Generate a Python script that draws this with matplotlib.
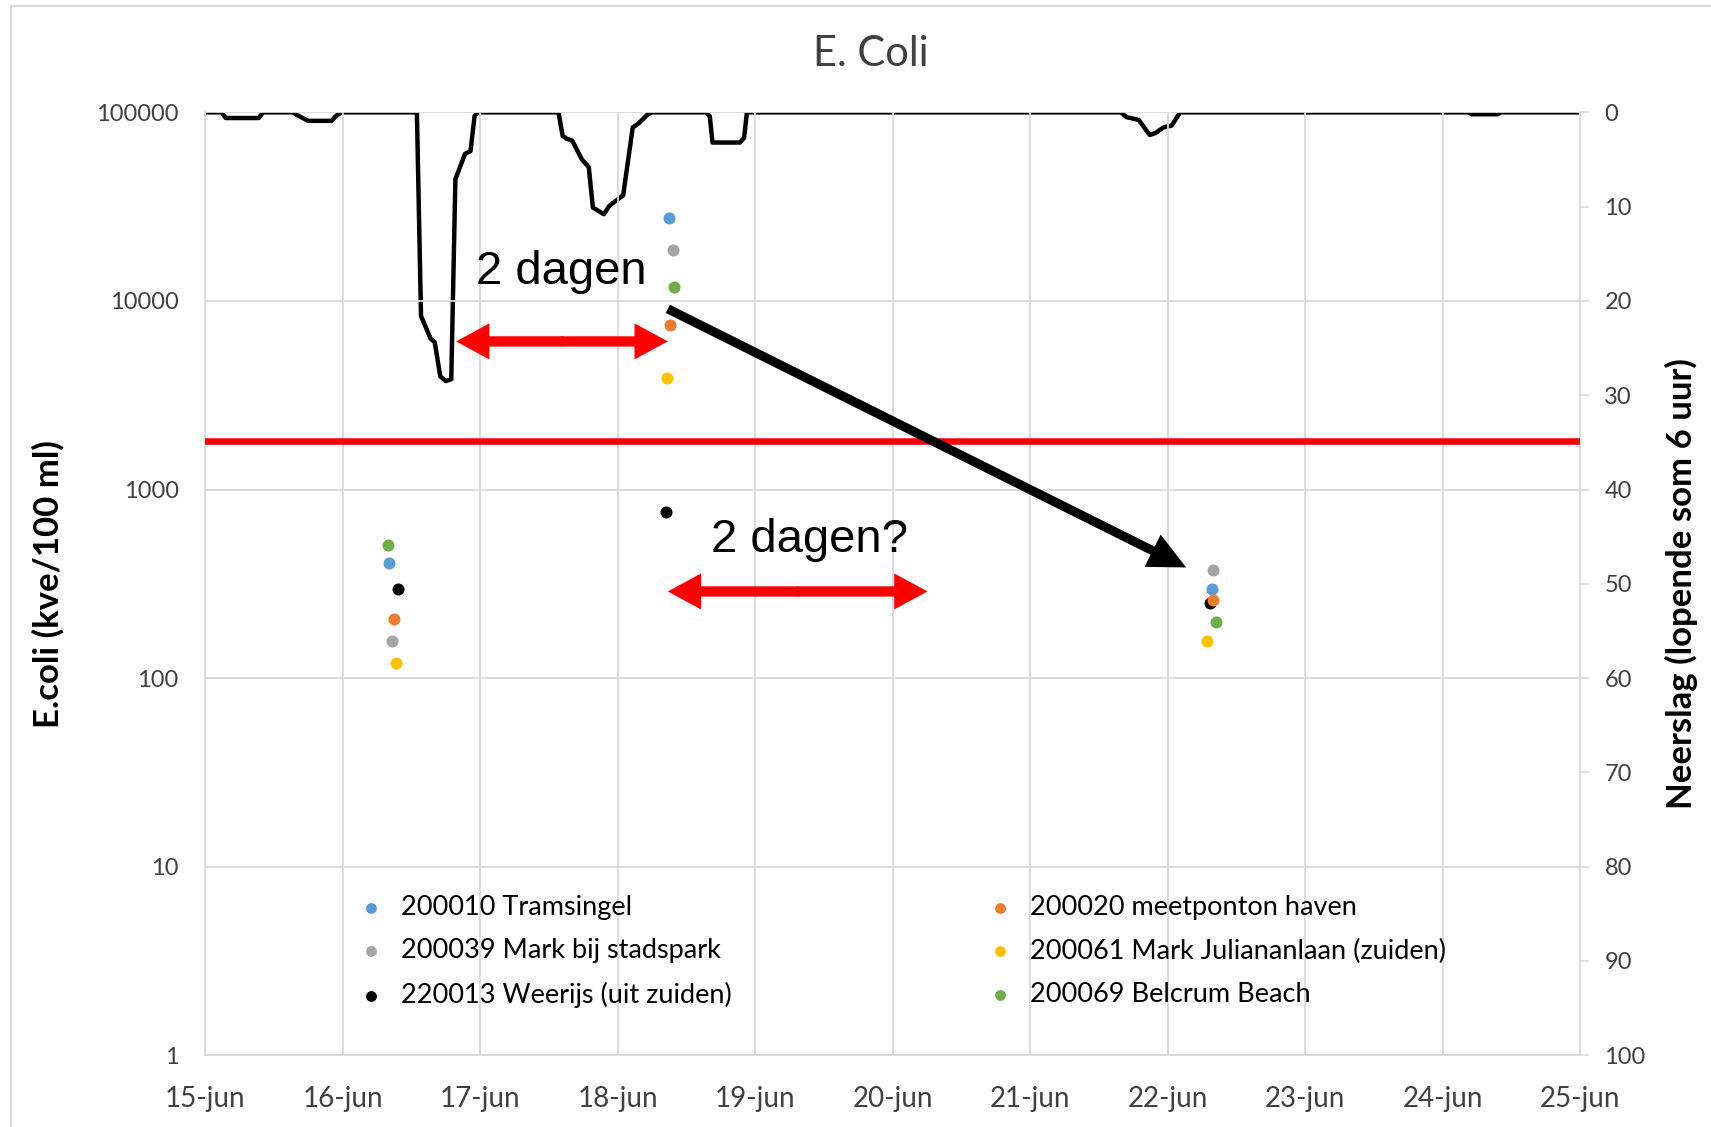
import numpy as np
import matplotlib
matplotlib.use("Agg")
import matplotlib.pyplot as plt
from matplotlib.patches import FancyArrowPatch, Rectangle
from matplotlib.ticker import FixedLocator, NullLocator

# x = days since 15-jun 00:00
day_labels = ["15-jun", "16-jun", "17-jun", "18-jun", "19-jun", "20-jun",
              "21-jun", "22-jun", "23-jun", "24-jun", "25-jun"]

# neerslag, lopende som 6 uur (mm)
rain_t = [0, 0.12, 0.15, 0.39, 0.42, 0.64, 0.67, 0.75, 0.92, 0.95, 0.99,
          1.54, 1.57, 1.64, 1.67, 1.71, 1.75, 1.79, 1.82, 1.89, 1.93, 1.96, 1.99,
          2.57, 2.60, 2.63, 2.67, 2.74, 2.79, 2.82, 2.90, 2.94, 3.04, 3.11, 3.15, 3.22, 3.25,
          3.64, 3.67, 3.69, 3.89, 3.92, 3.94,
          6.66, 6.70, 6.79, 6.87, 6.91, 6.97, 7.03, 7.09,
          9.19, 9.21, 9.40, 9.42, 10]
rain_mm = [0, 0, 0.6, 0.6, 0, 0, 0.3, 0.9, 0.9, 0.4, 0,
           0, 21.6, 24.0, 24.4, 28.0, 28.5, 28.3, 7.1, 4.4, 4.1, 0.35, 0,
           0, 2.5, 2.8, 3.0, 5.0, 5.8, 10.1, 10.8, 9.9, 8.8, 1.6, 1.2, 0.2, 0,
           0, 0.4, 3.2, 3.2, 2.7, 0,
           0, 0.5, 0.8, 2.4, 2.2, 1.6, 1.4, 0,
           0, 0.2, 0.2, 0, 0]

# E.coli meetpunten (kve/100 ml), three sampling moments
stations = ["200010 Tramsingel", "200039 Mark bij stadspark", "220013 Weerijs (uit zuiden)",
            "200020 meetponton haven", "200061 Mark Juliananlaan (zuiden)", "200069 Belcrum Beach"]
colors = ["#5B9BD5", "#A5A5A5", "#000000", "#ED7D31", "#FFC000", "#70AD47"]
t_tramsingel = [1.34, 3.37, 7.32]
v_tramsingel = [407, 27500, 296]
t_stadspark = [1.36, 3.40, 7.33]
v_stadspark = [158, 18700, 376]
t_weerijs = [1.40, 3.35, 7.31]
v_weerijs = [296, 762, 249]
t_haven = [1.37, 3.38, 7.33]
v_haven = [206, 7440, 259]
t_julianan = [1.39, 3.36, 7.29]
v_julianan = [120, 3920, 158]
t_belcrum = [1.33, 3.41, 7.35]
v_belcrum = [505, 11900, 198]
sample_t = [t_tramsingel, t_stadspark, t_weerijs, t_haven, t_julianan, t_belcrum]
sample_v = [v_tramsingel, v_stadspark, v_weerijs, v_haven, v_julianan, v_belcrum]

norm_value = 1800  # rode lijn

plt.rcParams['font.family'] = ['Lato', 'DejaVu Sans']
grid_c = "#d9d9d9"
txt_c = "#404040"

fig = plt.figure(figsize=(17.11, 11.27), dpi=100)
ax = fig.add_axes([0.1199, 0.0637, 0.8036, 0.8366])
ax2 = ax.twinx()

# rainfall on right axis (inverted)
ax2.plot(rain_t, rain_mm, color="black", lw=3.2, solid_joinstyle="round")
ax2.set_ylim(100, 0)
ax2.set_yticks(np.arange(0, 101, 10))
ax2.tick_params(axis="y", length=6.5, width=1.2, color=grid_c, pad=11,
                labelsize=17, labelcolor=txt_c)
for s in ["top", "left", "bottom"]:
    ax2.spines[s].set_visible(False)
ax2.spines["right"].set_color(grid_c)
ax2.spines["right"].set_linewidth(1.2)
ax2.set_ylabel("Neerslag (lopende som 6 uur)", fontsize=25, fontweight="bold",
               color="black", rotation=90)
ax2.yaxis.set_label_coords(1.062, 0.5)

ax.set_zorder(ax2.get_zorder() + 1)
ax.patch.set_visible(False)

ax.set_yscale("log")
ax.set_ylim(1, 100000)
ax.set_xlim(0, 10)
ax.yaxis.set_major_locator(FixedLocator([1, 10, 100, 1000, 10000, 100000]))
ax.yaxis.set_minor_locator(NullLocator())
ax.set_yticklabels(["1", "10", "100", "1000", "10000", "100000"])
ax.set_xticks(range(11))
ax.set_xticklabels(day_labels)
ax.tick_params(axis="y", length=0, pad=19, labelsize=17, labelcolor=txt_c)
ax.tick_params(axis="x", length=0, pad=22, labelsize=20, labelcolor=txt_c)
ax.grid(True, color=grid_c, lw=1.3)
ax.set_axisbelow(True)
for s in ["top", "right"]:
    ax.spines[s].set_visible(False)
for s in ["left", "bottom"]:
    ax.spines[s].set_color(grid_c)
    ax.spines[s].set_linewidth(1.3)
ax.set_ylabel("E.coli (kve/100 ml)", fontsize=25, fontweight="bold", color="black")
ax.yaxis.set_label_coords(-0.102, 0.5)

ax.axhline(norm_value, color="#FF0000", lw=4.7, zorder=3)

for name, c, t, v in zip(stations, colors, sample_t, sample_v):
    ax.scatter(t, v, s=75, color=c, label=name, zorder=4, linewidths=0)

leg = ax.legend(loc="center", bbox_to_anchor=(0.103, 0.055, 0.809, 0.11), mode="expand",
                ncol=2, frameon=False, fontsize=19.5, markerscale=0.9,
                handlelength=0.8, handletextpad=0.7, labelspacing=0.68, borderpad=0)
for tx in leg.get_texts():
    tx.set_color("black")

# annotations
def arrow(p0, p1, color, hl, hw, tw):
    a = FancyArrowPatch(p0, p1, transform=ax.transData, mutation_scale=1,
                        arrowstyle=f"simple,head_length={hl},head_width={hw},tail_width={tw}",
                        color=color, lw=0, shrinkA=0, shrinkB=0, zorder=6)
    ax.add_patch(a)

# red double arrows: two halves from the middle, barely overlapping
for (x0, x1, y) in [(1.825, 3.365, 6100), (3.365, 5.254, 288)]:
    xm = (x0 + x1) / 2
    arrow((xm + 0.008, y), (x0, y), "#FF0000", 24, 26, 7.4)
    arrow((xm - 0.008, y), (x1, y), "#FF0000", 24, 26, 7.4)

arrow((3.365, 9080), (7.135, 386), "black", 27, 26, 6.6)

ax.text(2.587, 14300, "2 dagen", fontsize=34, family="Liberation Sans",
        ha="center", va="center", color="black", zorder=7)
ax.text(4.397, 538, "2 dagen?", fontsize=34, family="Liberation Sans",
        ha="center", va="center", color="black", zorder=7)

fig.text(0.509, 0.952, "E. Coli", fontsize=30, ha="center", va="center", color=txt_c)

# chart frame
fig.patches.append(Rectangle((11 / 1711, -0.02), 1.1, 1.02 - 5.5 / 1127,
                             transform=fig.transFigure, fill=False,
                             edgecolor=grid_c, lw=1.5))

fig.savefig("out.png", dpi=100)
